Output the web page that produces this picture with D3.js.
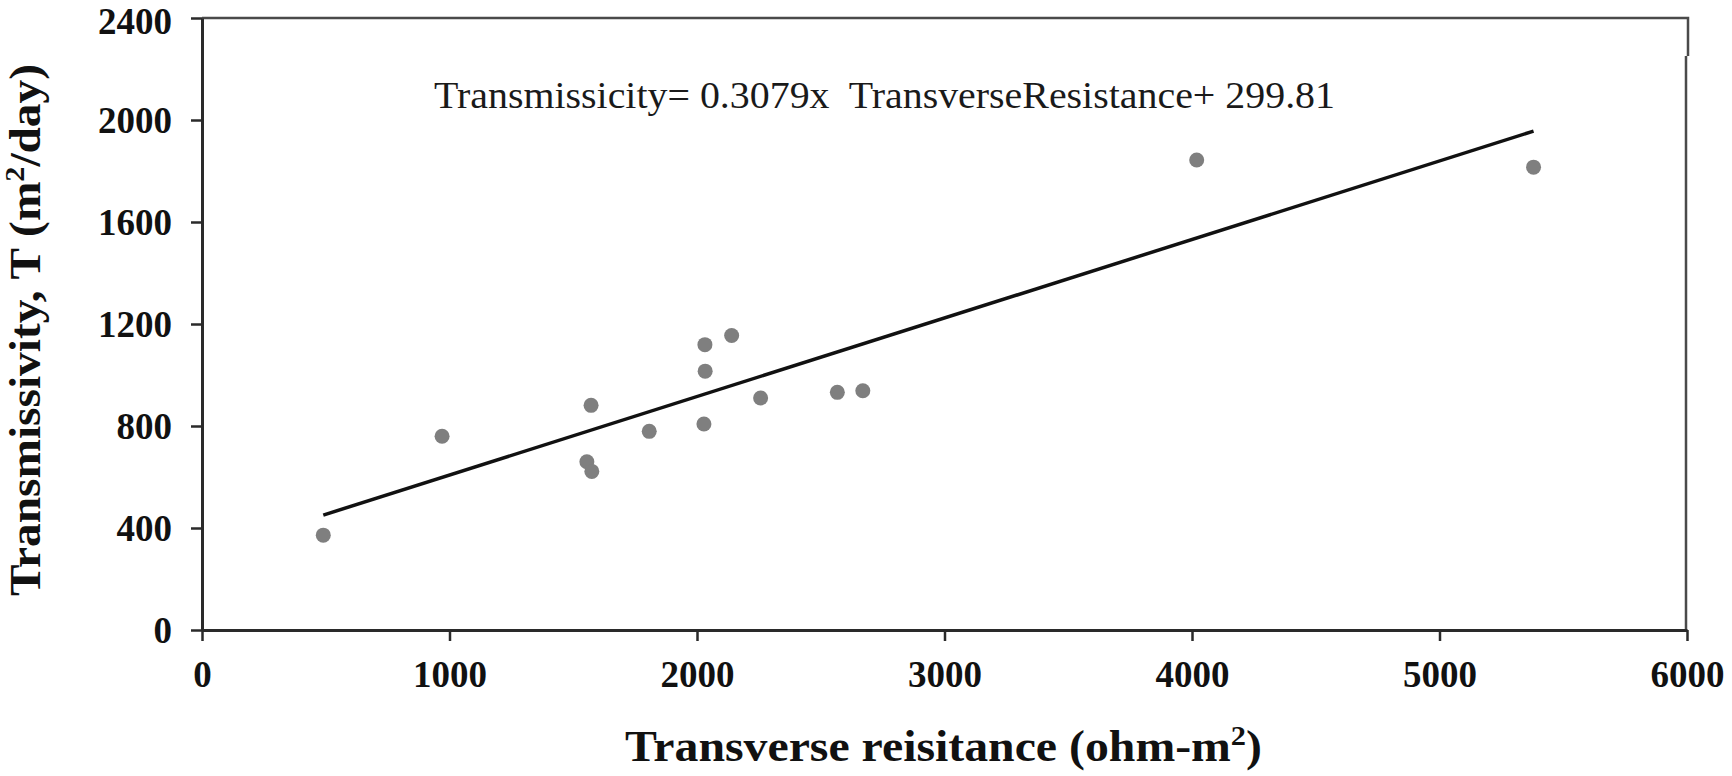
<!DOCTYPE html>
<html>
<head>
<meta charset="utf-8">
<script src="https://cdn.jsdelivr.net/npm/d3@7"></script>
<style>
    body { margin: 0; background: #fff; }
    svg text { font-family: "Liberation Serif", "Times New Roman", serif; }
</style>
</head>
<body>
<div class="chart"></div>
<script>
// transverse resistance (ohm-m2) and transmissivity (m2/day) per sounding
let resistance = [490, 970, 1555, 1575, 1572, 1807, 2028, 2033, 2032, 2140, 2257, 2567, 2670, 4019, 5380];
let transmissivity = [372, 760, 660, 622, 881, 779, 808, 1015, 1119, 1155, 910, 932, 938, 1843, 1815];

// fitted line from the chart
let slope = 0.3079;
let intercept = 299.81;

let xTicks = [0, 1000, 2000, 3000, 4000, 5000, 6000];
let yTicks = [0, 400, 800, 1200, 1600, 2000, 2400];

class Scatter{

    constructor(xs, ys){
        this.xs = xs;
        this.ys = ys;
    }

    draw(){
        let svg = d3.select(".chart").append("svg")
            .attr("width", 1732)
            .attr("height", 776)

        let xScale = d3.scaleLinear().domain([0, 6000]).range([202, 1687]);
        let yScale = d3.scaleLinear().domain([0, 2400]).range([630, 18]);

        //top and right frame, with the small step on the right side
        svg.append("path")
            .attr("d", "M" + xScale(0) + "," + yScale(2400) + "H" + (xScale(6000) + 1)
                + "V56 M" + (xScale(6000) - 1) + ",56 V" + yScale(0))
            .attr("fill", "none")
            .attr("stroke", "#4a4a4a")
            .attr("stroke-width", 2.5)

        //axes, plain numbers without thousands separator
        let yAxis = d3.axisLeft(yScale).tickValues(yTicks).tickFormat(d3.format("d"))
            .tickSize(11).tickSizeOuter(0).tickPadding(19)
        let xAxis = d3.axisBottom(xScale).tickValues(xTicks).tickFormat(d3.format("d"))
            .tickSize(11).tickSizeOuter(0).tickPadding(20)

        let gy = svg.append("g").attr("transform", "translate(" + xScale(0) + ",0)").call(yAxis)
        let gx = svg.append("g").attr("transform", "translate(0," + yScale(0) + ")").call(xAxis)

        for(let g of [gx, gy]){
            g.select(".domain").attr("stroke", "#2a2a2a").attr("stroke-width", 3)
            g.selectAll(".tick line").attr("stroke", "#2a2a2a").attr("stroke-width", 2.5)
            g.selectAll(".tick text")
                .attr("font-family", "Liberation Serif, Times New Roman, serif")
                .attr("font-weight", "bold")
                .attr("font-size", 37)
                .attr("fill", "#111")
        }
        gy.selectAll(".tick text").attr("dy", "0.34em")
        //top label sits right at the edge, nudge it down a little
        gy.selectAll(".tick text").filter(d => d === 2400).attr("dy", "0.42em")

        //regression line across the data range
        let xMin = d3.min(this.xs);
        let xMax = d3.max(this.xs);
        svg.append("line")
            .attr("x1", xScale(xMin))
            .attr("y1", yScale(slope * xMin + intercept))
            .attr("x2", xScale(xMax))
            .attr("y2", yScale(slope * xMax + intercept))
            .attr("stroke", "#111")
            .attr("stroke-width", 3.5)

        //points
        svg.append("g").selectAll("circle")
            .data(this.xs)
            .join("circle")
            .attr("cx", d => xScale(d))
            .attr("cy", (d, i) => yScale(this.ys[i]))
            .attr("r", 7.5)
            .attr("fill", "#7f7f7f")

        //equation
        svg.append("text")
            .attr("x", 434)
            .attr("y", 108)
            .attr("font-size", 38)
            .attr("fill", "#1a1a1a")
            .attr("textLength", 901)
            .attr("lengthAdjust", "spacingAndGlyphs")
            .style("white-space", "pre")
            .text("Transmissicity= 0.3079x  TransverseResistance+ 299.81")

        //axis titles
        let xt = svg.append("text")
            .attr("x", 625)
            .attr("y", 761)
            .attr("font-size", 44)
            .attr("font-weight", "bold")
            .attr("fill", "#111")
            .attr("textLength", 637)
            .attr("lengthAdjust", "spacingAndGlyphs")
        xt.append("tspan").text("Transverse reisitance (ohm-m")
        xt.append("tspan").attr("dy", -16).attr("font-size", 28).text("2")
        xt.append("tspan").attr("dy", 16).text(")")

        let yt = svg.append("text")
            .attr("transform", "translate(40,596) rotate(-90)")
            .attr("font-size", 44)
            .attr("font-weight", "bold")
            .attr("fill", "#111")
            .attr("textLength", 532)
            .attr("lengthAdjust", "spacingAndGlyphs")
        yt.append("tspan").text("Transmissivity, T (m")
        yt.append("tspan").attr("dy", -16).attr("font-size", 28).text("2")
        yt.append("tspan").attr("dy", 16).text("/day)")
    }
}

let chart = new Scatter(resistance, transmissivity);
chart.draw();
</script>
</body>
</html>
